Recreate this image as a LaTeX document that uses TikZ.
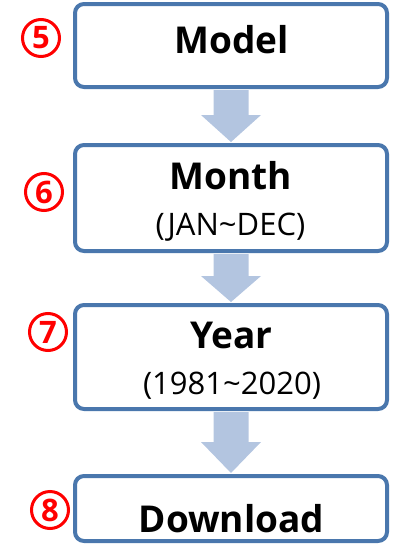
\documentclass[tikz,border=0pt]{standalone}
\usepackage{fontspec}
\setmainfont{Open Sans}
\usetikzlibrary{calc}
\definecolor{boxblue}{HTML}{4A77AD}
\definecolor{arrowblue}{HTML}{B3C5E0}
\definecolor{numred}{HTML}{FF0000}
\tikzset{
  stepbox/.style={draw=boxblue, line width=4pt, rounded corners=9pt, fill=white,
    rectangle, minimum width=312pt, inner sep=0pt},
  titletext/.style={anchor=base, inner sep=0pt, font=\fontsize{37}{40}\selectfont\bfseries},
  subtext/.style={anchor=base, inner sep=0pt, font=\fontsize{31}{34}\selectfont},
  numcircle/.style={circle, draw=numred, line width=3pt, minimum size=37pt, inner sep=0pt,
    text=numred, font=\fontsize{31}{31}\selectfont\bfseries},
  blockarrow/.style={fill=arrowblue, draw=none}
}
\newcommand{\blockarrowdraw}[3]{% from node, to node, head start offset
  \fill[blockarrow] ($(#1.south)+(-17.5,1)$) -- ($(#1.south)+(17.5,1)$)
    -- ($(#2.north)+(17.5,-#3)$) -- ($(#2.north)+(30,-#3)$)
    -- ($(#2.north)+(0,-1)$)
    -- ($(#2.north)+(-30,-#3)$) -- ($(#2.north)+(-17.5,-#3)$) -- cycle;
}
\begin{document}
\begin{tikzpicture}[x=1pt,y=-1pt]
\useasboundingbox (0,0) rectangle (392,544);
% boxes
\node[stepbox, minimum height=83pt] (b1) at (231,45.5) {};
\node[stepbox, minimum height=106pt] (b2) at (231,198) {};
\node[stepbox, minimum height=104pt] (b3) at (231,357) {};
\node[stepbox, minimum height=65pt] (b4) at (231,508.5) {};
% arrows
\blockarrowdraw{b1}{b2}{28}
\blockarrowdraw{b2}{b3}{27}
\blockarrowdraw{b3}{b4}{32}
% texts
\node[titletext] (t1) at (231.5,53) {Model};
\node[titletext] (t2) at (231,189) {Month};
\node[subtext] (s2) at (230.5,235) {(JAN\textasciitilde DEC)};
\node[titletext] (t3) at (231.5,348) {Year};
\node[subtext] (s3) at (232,394) {(1981\textasciitilde 2020)};
\node[titletext] (t4) at (231.5,532) {Download};
% numbers
\node[numcircle] (n5) at (41,38) {5};
\node[numcircle] (n6) at (44,192) {6};
\node[numcircle] (n7) at (48,332) {7};
\node[numcircle] (n8) at (50,510) {8};
\end{tikzpicture}
\end{document}
